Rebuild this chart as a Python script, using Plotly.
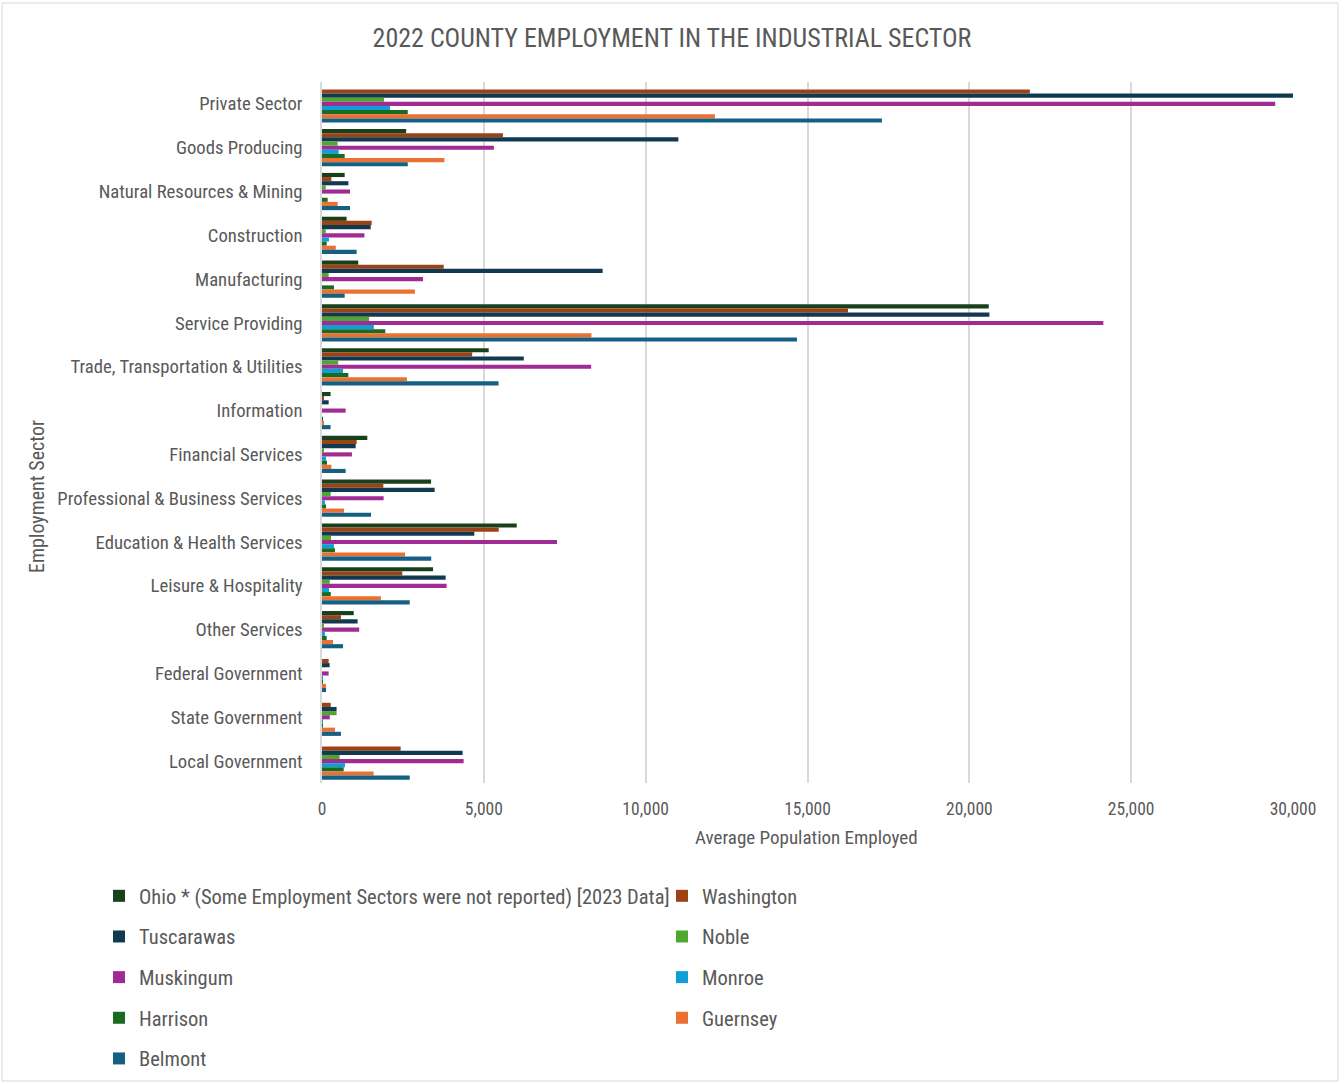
import plotly.graph_objects as go

categories = ["Private Sector", "Goods Producing", "Natural Resources & Mining", "Construction",
              "Manufacturing", "Service Providing", "Trade, Transportation & Utilities", "Information",
              "Financial Services", "Professional & Business Services", "Education & Health Services",
              "Leisure & Hospitality", "Other Services", "Federal Government", "State Government",
              "Local Government"]

ohio       = [None, 2600, 700, 760, 1120, 20600, 5150, 265, 1400, 3370, 6015, 3430, 980, None, None, None]
washington = [21870, 5590, 290, 1535, 3760, 16250, 4640, 45, 1070, 1895, 5460, 2480, 585, 205, 270, 2430]
tuscarawas = [30000, 11010, 815, 1505, 8670, 20620, 6235, 205, 1040, 3480, 4705, 3820, 1100, 235, 450, 4345]
noble      = [1915, 485, 115, 115, 205, 1455, 500, None, 50, 270, 280, 240, 60, None, 450, 545]
muskingum  = [29450, 5310, 865, 1310, 3120, 24140, 8315, 730, 925, 1905, 7260, 3850, 1150, 205, 240, 4375]
monroe     = [2100, 515, None, 215, None, 1600, 650, None, 125, 90, 370, 215, 90, 30, 30, 710]
harrison   = [2650, 700, 175, 145, 370, 1955, 815, 25, 155, 125, 400, 270, 145, 20, 30, 670]
guernsey   = [12140, 3780, 485, 425, 2870, 8325, 2625, 60, 290, 680, 2565, 1820, 340, 125, 400, 1595]
belmont    = [17300, 2650, 865, 1070, 700, 14675, 5455, 265, 730, 1515, 3375, 2710, 650, 125, 585, 2710]

series = [
    ("Ohio * (Some Employment Sectors were not reported) [2023 Data]", ohio, "#17401b", "legend"),
    ("Washington", washington, "#9c4215", "legend2"),
    ("Tuscarawas", tuscarawas, "#113a50", "legend"),
    ("Noble", noble, "#4ea72e", "legend2"),
    ("Muskingum", muskingum, "#a02b93", "legend"),
    ("Monroe", monroe, "#0f9ed5", "legend2"),
    ("Harrison", harrison, "#196b24", "legend"),
    ("Guernsey", guernsey, "#e97132", "legend2"),
    ("Belmont", belmont, "#156082", "legend"),
]

FONT = "Roboto Condensed, Liberation Sans Narrow, Roboto, sans-serif"
GREY = "#595959"

fig = go.Figure()
for i, (name, vals, color, leg) in enumerate(series):
    fig.add_trace(go.Bar(
        y=categories, x=vals, name=name, orientation="h",
        marker=dict(color=color, line=dict(width=0)),
        legend=leg, legendgroup=f"g{i}",
    ))

W, H = 1344, 1084
L, R, T, B = 322, 51, 82, 301
pw, ph = W - L - R, H - T - B

def px_x(px):
    return (px - L) / pw

def px_y(py):
    return (H - B - py) / ph

legend_common = dict(
    orientation="v", xanchor="left", yanchor="top",
    font=dict(family=FONT, size=20.5, color=GREY),
    tracegroupgap=11, itemwidth=30, bgcolor="rgba(0,0,0,0)",
    traceorder="grouped",
)

fig.update_layout(
    width=W, height=H,
    margin=dict(l=L, r=R, t=T, b=B, autoexpand=False),
    paper_bgcolor="white", plot_bgcolor="white",
    barmode="group", bargap=0.15, bargroupgap=0,
    font=dict(family=FONT, color=GREY),
    title=dict(text="2022 COUNTY EMPLOYMENT IN THE INDUSTRIAL SECTOR",
               x=0.5, xref="container", xanchor="center",
               y=1 - 38 / H, yref="container", yanchor="middle",
               font=dict(family=FONT, size=26, color=GREY)),
    xaxis=dict(range=[0, 30000], dtick=5000, tickformat=",", showgrid=True,
               gridcolor="#d9d9d9", gridwidth=1.5, zeroline=False,
               showline=False, ticks="", ticklabelstandoff=13,
               tickfont=dict(family=FONT, size=17.5, color=GREY)),
    yaxis=dict(autorange="reversed", showgrid=False, ticks="",
               showline=True, linecolor="#d9d9d9", linewidth=1.5,
               ticklabelstandoff=14,
               tickfont=dict(family=FONT, size=18.7, color=GREY)),
    legend=dict(x=px_x(99), y=px_y(876), **legend_common),
    legend2=dict(x=px_x(662), y=px_y(876), **legend_common),
    annotations=[
        dict(text="Average Population Employed", x=px_x(806), y=px_y(838),
             xref="paper", yref="paper", showarrow=False,
             xanchor="center", yanchor="middle",
             font=dict(family=FONT, size=19, color=GREY)),
        dict(text="Employment Sector", x=px_x(37), y=px_y(497),
             xref="paper", yref="paper", showarrow=False, textangle=-90,
             xanchor="center", yanchor="middle",
             font=dict(family=FONT, size=20, color=GREY)),
    ],
    shapes=[dict(type="rect", xref="paper", yref="paper",
                 x0=px_x(2), x1=px_x(1338), y0=px_y(1081), y1=px_y(3),
                 line=dict(color="#d9d9d9", width=1), fillcolor="rgba(0,0,0,0)",
                 layer="below")],
)

fig.write_html("out.html", config={"displayModeBar": False},
               post_script="document.body.style.margin='0';document.body.style.padding='0';")
